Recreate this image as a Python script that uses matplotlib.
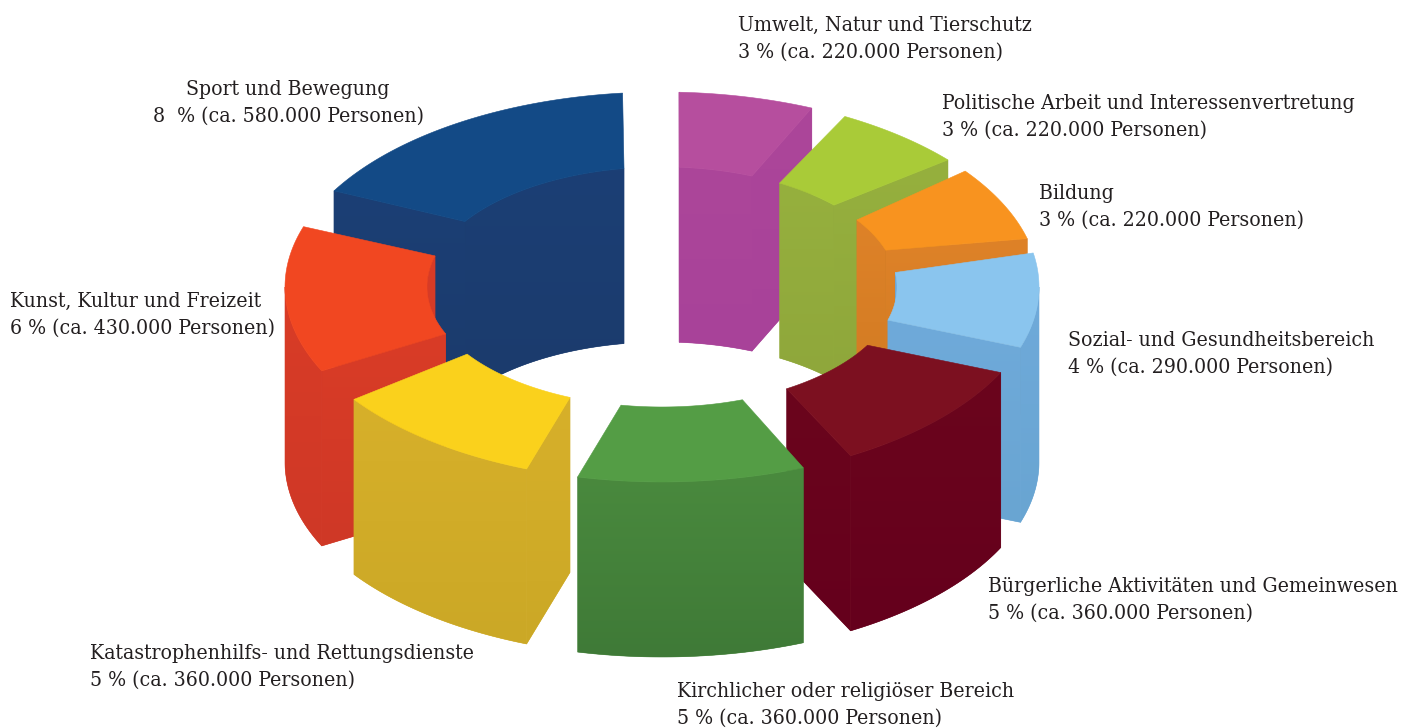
import numpy as np
import matplotlib
matplotlib.use("Agg")
import matplotlib.pyplot as plt
from matplotlib.patches import Polygon
from matplotlib.colors import to_rgb, LinearSegmentedColormap

# ---- data ----
categories = ["Umwelt, Natur und Tierschutz", "Politische Arbeit und Interessenvertretung",
              "Bildung", "Sozial- und Gesundheitsbereich",
              "Bürgerliche Aktivitäten und Gemeinwesen", "Kirchlicher oder religiöser Bereich",
              "Katastrophenhilfs- und Rettungsdienste", "Kunst, Kultur und Freizeit",
              "Sport und Bewegung"]
shares = [3, 3, 3, 4, 5, 5, 5, 6, 8]
persons = ["220.000", "220.000", "220.000", "290.000", "360.000", "360.000", "360.000", "430.000", "580.000"]
pct_sep = [" ", " ", " ", " ", " ", " ", " ", " ", "  "]

# ---- style ----
top_col = ["#b64e9e", "#a9cb38", "#f8931f", "#8ac5ee", "#7c1020", "#549d45", "#fad11c", "#f14721", "#134a86"]
side_top = ["#ac4699", "#96b03e", "#de8228", "#6faada", "#6b051d", "#4a8a3e", "#d7b02a", "#d93c26", "#1b3f75"]
side_bot = ["#a8429a", "#8fa73b", "#d07a22", "#69a5d2", "#65001c", "#3f7a37", "#cba826", "#cf3826", "#1b3b6c"]
label_x1 = [738, 942, 1039, 1068, 988, 677, 90, 10, 186]
label_x2 = [738, 942, 1039, 1068, 988, 677, 90, 10, 153]
label_y1 = [31, 109, 199, 346, 592, 697, 659, 307, 95]

CX, CY = 662, 287
RX_O, RY_O = 377, 195
RX_I, RY_I = 235, 120
H = 175
PAD_O0 = [2.6, 3.3, 2.1, 2.8, 4.6, 3.7, 3.9, 4.5, 8.1]
PAD_O1 = [2.3, 2.1, 1.5, 3.4, 4.3, 4.2, 5.2, 3.4, 6.0]
PAD_I0 = [4.2, 4.3, 4.6, 5.9, 7.6, 5.7, 5.9, 7.0, 11.6]
PAD_I1 = [3.2, 4.4, 5.0, 5.4, 6.3, 7.1, 4.0, 6.4, 9.3]

fig = plt.figure(figsize=(14.13, 7.28), dpi=100)
ax = fig.add_axes([0, 0, 1, 1])
ax.axis("off")


def pts(t, rx, ry, dy=0.0):
    r = np.radians(t)
    return np.column_stack([CX + rx * np.sin(r), CY - ry * np.cos(r) + dy])


def grad_poly(xy, c0, c1, z):
    mid = tuple((np.array(to_rgb(c0)) + np.array(to_rgb(c1))) / 2)
    ax.add_patch(Polygon(xy, closed=True, fc=mid, ec=mid, lw=0.4, zorder=z))
    poly = Polygon(xy, closed=True, fc="none", ec="none", transform=ax.transData)
    ax.add_patch(poly)
    ymin, ymax = xy[:, 1].min(), xy[:, 1].max()
    xmin, xmax = xy[:, 0].min(), xy[:, 0].max()
    cmap = LinearSegmentedColormap.from_list("g", [to_rgb(c0), to_rgb(c1)])
    im = ax.imshow(np.linspace(0, 1, 64)[:, None], extent=[xmin, xmax, ymax, ymin], cmap=cmap,
                   aspect="auto", zorder=z, interpolation="bilinear")
    im.set_clip_path(poly)
    ax.set_xlim(0, 1413)
    ax.set_ylim(728, 0)


def signed_area(q):
    x, y = q[:, 0], q[:, 1]
    return 0.5 * np.sum(x * np.roll(y, -1) - np.roll(x, -1) * y)


ax.set_xlim(0, 1413)
ax.set_ylim(728, 0)
bounds = np.concatenate([[0], np.cumsum(shares)]) / np.sum(shares) * 360
order = [8, 0, 1, 2, 7, 3, 6, 4, 5]
z = 1
for i in order:
    to0, to1 = bounds[i] + PAD_O0[i], bounds[i + 1] - PAD_O1[i]
    ti0, ti1 = bounds[i] + PAD_I0[i], bounds[i + 1] - PAD_I1[i]
    to = np.linspace(to0, to1, 80)
    ti = np.linspace(ti0, ti1, 80)
    for lo, hi in [(-90, 90), (270, 450)]:
        a, b = max(ti0, lo), min(ti1, hi)
        if a < b:
            tt = np.linspace(a, b, 60)
            q = np.vstack([pts(tt, RX_I, RY_I), pts(tt[::-1], RX_I, RY_I, H)])
            grad_poly(q, side_top[i], side_bot[i], z); z += 1
    for ta, tb, sign in [(to0, ti0, -1), (to1, ti1, 1)]:
        o, n = pts([ta], RX_O, RY_O), pts([tb], RX_I, RY_I)
        q = np.vstack([o, n, n + [0, H], o + [0, H]])
        if signed_area(q) * sign < 0:
            grad_poly(q, side_top[i], side_bot[i], z); z += 1
    a, b = max(to0, 90), min(to1, 270)
    if a < b:
        tt = np.linspace(a, b, 80)
        q = np.vstack([pts(tt, RX_O, RY_O), pts(tt[::-1], RX_O, RY_O, H)])
        grad_poly(q, side_top[i], side_bot[i], z); z += 1
    q = np.vstack([pts(to, RX_O, RY_O), pts(ti[::-1], RX_I, RY_I)])
    ax.add_patch(Polygon(q, closed=True, fc=top_col[i], ec=top_col[i], lw=0.4, zorder=z)); z += 1

font = dict(family="DejaVu Serif", stretch="condensed", fontsize=15.2, color="#231f20",
            va="baseline", ha="left", zorder=z + 1)
for i, (name, val, per) in enumerate(zip(categories, shares, persons)):
    ax.text(label_x1[i], label_y1[i], name, **font)
    ax.text(label_x2[i], label_y1[i] + 27, f"{val}{pct_sep[i]}% (ca. {per} Personen)", **font)

fig.savefig("out.png", dpi=100)
